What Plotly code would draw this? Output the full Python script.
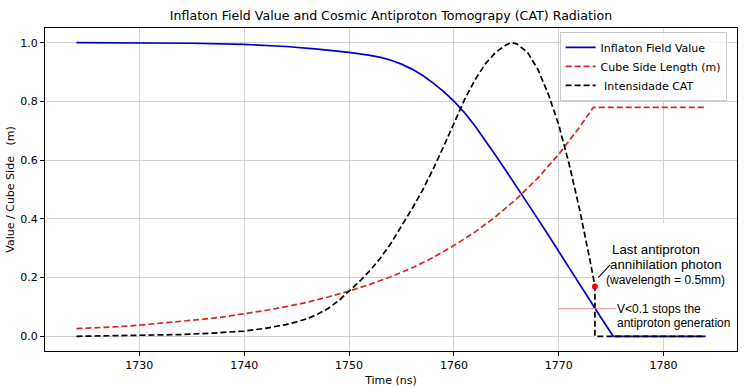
import plotly.graph_objects as go

# ---- data ----
t_inflaton = [1724, 1730, 1735, 1740, 1744, 1747, 1750, 1752, 1753, 1754, 1755, 1756, 1757, 1758,
              1759, 1760, 1761, 1762, 1763, 1764, 1765, 1766, 1767, 1768, 1769, 1770, 1771, 1772,
              1773, 1774, 1775.2, 1784]
inflaton = [1.0, 0.9995, 0.998, 0.994, 0.987, 0.978, 0.967, 0.957, 0.950, 0.940, 0.927, 0.910,
            0.889, 0.863, 0.834, 0.801, 0.762, 0.717, 0.667, 0.615, 0.562, 0.509, 0.455, 0.400,
            0.345, 0.290, 0.234, 0.178, 0.121, 0.065, 0.0, 0.0]

t_cube = [1724, 1726, 1728, 1730, 1732, 1734, 1736, 1738, 1740, 1742, 1744, 1746, 1748, 1750,
          1752, 1754, 1756, 1758, 1760, 1762, 1764, 1766, 1768, 1770, 1772, 1773.3, 1784]
cube = [0.026, 0.029, 0.033, 0.038, 0.044, 0.050, 0.058, 0.066, 0.076, 0.088, 0.101, 0.116,
        0.134, 0.154, 0.177, 0.203, 0.233, 0.268, 0.309, 0.355, 0.408, 0.469, 0.539, 0.620,
        0.713, 0.780, 0.780]

t_cat = [1724, 1730, 1734, 1737, 1740, 1742, 1743, 1744, 1745, 1746, 1747, 1748, 1749, 1750,
         1751, 1752, 1753, 1754, 1755, 1756, 1757, 1758, 1759, 1760, 1761, 1762, 1763, 1764,
         1765, 1765.5, 1766, 1767, 1768, 1769, 1770, 1771, 1772, 1773, 1773.45, 1773.45, 1784]
cat = [0.0, 0.003, 0.006, 0.011, 0.018, 0.027, 0.033, 0.040, 0.049, 0.060, 0.075, 0.095,
       0.121, 0.154, 0.187, 0.224, 0.267, 0.317, 0.374, 0.434, 0.497, 0.568, 0.645, 0.727,
       0.805, 0.873, 0.928, 0.968, 0.993, 1.0, 0.996, 0.968, 0.910, 0.825, 0.720, 0.585,
       0.430, 0.255, 0.17, 0.0, 0.0]

last_photon_t = [1773.45]
last_photon_v = [0.17]

x_ticks = [1730, 1740, 1750, 1760, 1770, 1780]
y_ticks = [0.0, 0.2, 0.4, 0.6, 0.8, 1.0]

FONT = "DejaVu Sans"
ANN_FONT = "Liberation Sans, Arial"
dash = "6px,3px"

fig = go.Figure()
fig.add_trace(go.Scatter(x=t_inflaton, y=inflaton, mode="lines", name="Inflaton Field Value",
                         line=dict(color="#0000cd", width=1.7)))
fig.add_trace(go.Scatter(x=t_cube, y=cube, mode="lines", name="Cube Side Length (m)",
                         line=dict(color="#d62728", width=1.7, dash=dash)))
fig.add_trace(go.Scatter(x=t_cat, y=cat, mode="lines", name="\u00a0Intensidade CAT",
                         line=dict(color="black", width=1.7, dash=dash)))
fig.add_trace(go.Scatter(x=last_photon_t, y=last_photon_v, mode="markers", showlegend=False,
                         marker=dict(color="red", size=6)))

# white background behind annotation texts (between grid and data)
fig.add_shape(type="rect", xref="x", yref="y", x0=1773.5, x1=1787, y0=-0.005, y1=0.386,
              fillcolor="white", line=dict(width=0), layer="between")
# leader line to last photon
fig.add_shape(type="line", xref="x", yref="y", x0=1773.77, y0=0.20, x1=1774.89, y1=0.243,
              line=dict(color="black", width=1.1))
# V<0.1 connector
fig.add_shape(type="line", xref="x", yref="y", x0=1770.0, y0=0.094, x1=1775.45, y1=0.094,
              line=dict(color="#dd8888", width=1))

def txt(x, y, s, size):
    fig.add_annotation(x=x, y=y, xref="x", yref="y", text=s, showarrow=False,
                       xanchor="left", yanchor="middle", borderpad=0,
                       font=dict(family=ANN_FONT, size=size, color="black"))

txt(1774.95, 0.294, "Last antiproton", 13.3)
txt(1774.80, 0.243, "annihilation photon", 13.3)
txt(1774.42, 0.192, "(wavelength = 0.5mm)", 12)
txt(1775.50, 0.093, "V&lt;0.1 stops the", 12)
txt(1775.50, 0.044, "antiproton generation", 12)

axis_common = dict(showline=True, linecolor="black", linewidth=1, mirror=True,
                   ticks="outside", ticklen=4, tickcolor="black", tickwidth=1,
                   showgrid=True, gridcolor="#d3d3d3", gridwidth=1.2, zeroline=False,
                   automargin=False,
                   tickfont=dict(family=FONT, size=11, color="black"))

fig.update_xaxes(range=[1721, 1787], tickvals=x_ticks, ticktext=[str(v) for v in x_ticks],
                 title=dict(text="Time (ns)", font=dict(family=FONT, size=11, color="black"),
                            standoff=5),
                 **axis_common)
fig.update_yaxes(range=[-0.05, 1.05], tickvals=y_ticks, ticktext=[f"{v:.1f}" for v in y_ticks],
                 title=dict(text="Value / Cube Side\u00a0\u00a0 (m)",
                            font=dict(family=FONT, size=11, color="black"), standoff=3),
                 **axis_common)

fig.update_layout(
    width=744, height=388,
    margin=dict(l=45, r=7, t=28, b=37),
    paper_bgcolor="white", plot_bgcolor="white",
    title=dict(text="Inflaton Field Value and Cosmic Antiproton Tomograpy (CAT) Radiation",
               x=0.5, xref="paper", xanchor="center", y=1 - 16 / 388, yanchor="middle",
               font=dict(family=FONT, size=12.6, color="black")),
    legend=dict(x=0.985, y=0.988, xanchor="right", yanchor="top",
                bgcolor="rgba(255,255,255,0.8)", bordercolor="#cccccc", borderwidth=1,
                font=dict(family=FONT, size=11, color="black"), tracegroupgap=0),
    showlegend=True,
)

fig.write_html("out.html", config={"displayModeBar": False},
               post_script="document.body.style.margin='0';document.body.style.padding='0';")
